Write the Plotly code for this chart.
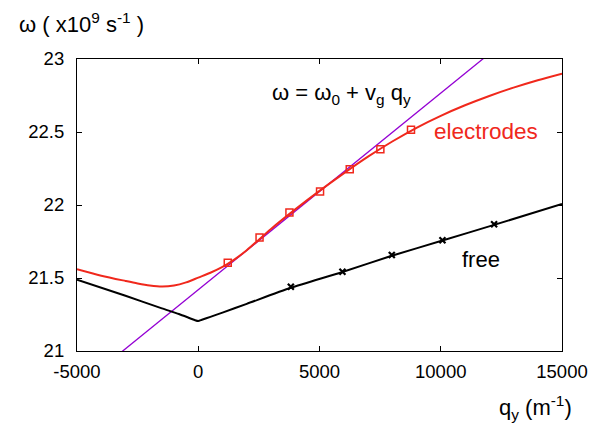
import plotly.graph_objects as go

# free (uncovered) dispersion: line and computed points
free_q = [-5000, -3000, -1500, -800, -400, -150, 0, 150, 500, 1000, 2000, 3818, 5946, 7981, 10070, 12200, 15000]
free_w = [21.488, 21.378, 21.292, 21.253, 21.228, 21.212, 21.205, 21.214, 21.234, 21.263, 21.323, 21.433, 21.541, 21.652, 21.757, 21.864, 22.007]
free_pts_q = [3818, 5946, 7981, 10070, 12200]
free_pts_w = [21.44, 21.543, 21.658, 21.758, 21.868]

# electrodes dispersion: curve and computed points
elec_q = [-5000, -4000, -3000, -2500, -2000, -1500, -1000, -500, 0, 500, 1000, 1500, 2000, 3000, 4000,
          5000, 6000, 7000, 8000, 9000, 10000, 11000, 12000, 13000, 14000, 15000]
elec_w = [21.56, 21.516, 21.48, 21.463, 21.449, 21.441, 21.448, 21.47, 21.503, 21.536, 21.576, 21.628,
          21.69, 21.836, 21.97, 22.097, 22.217, 22.331, 22.435, 22.529, 22.611, 22.683, 22.747,
          22.804, 22.855, 22.9]
elec_pts_q = [1217, 2528, 3760, 5023, 6247, 7510, 8773]
elec_pts_w = [21.605, 21.777, 21.948, 22.092, 22.245, 22.382, 22.515]

# linear fit  w = w0 + vg q
fit_q = [-5000, 15000]
fit_w = [20.746, 23.44]

x_ticks = [-5000, 0, 5000, 10000, 15000]
y_ticks = [21, 21.5, 22, 22.5, 23]
y_ticktext = ["21", "21.5", "22", "22.5", "23"]

FONT = "Liberation Sans, Arial, Helvetica, sans-serif"
RED = "#f0281c"
PURPLE = "#9400d3"

fig = go.Figure()
fig.add_trace(go.Scatter(x=fit_q, y=fit_w, mode="lines",
                         line=dict(color=PURPLE, width=1.3), hoverinfo="skip"))
fig.add_trace(go.Scatter(x=free_q, y=free_w, mode="lines",
                         line=dict(color="black", width=2, shape="spline", smoothing=0.6)))
fig.add_trace(go.Scatter(x=free_pts_q, y=free_pts_w, mode="markers",
                         marker=dict(symbol="x-thin", size=6, line=dict(color="black", width=2.2))))
fig.add_trace(go.Scatter(x=elec_q, y=elec_w, mode="lines",
                         line=dict(color=RED, width=2, shape="spline", smoothing=0.8)))
fig.add_trace(go.Scatter(x=elec_pts_q, y=elec_pts_w, mode="markers",
                         marker=dict(symbol="square-open", size=7, color=RED, line=dict(color=RED, width=1.5))))

fig.update_layout(
    width=614, height=426,
    margin=dict(l=77, r=52, t=59, b=75),
    paper_bgcolor="white", plot_bgcolor="white",
    showlegend=False,
    font=dict(family=FONT, size=19, color="black"),
    xaxis=dict(range=[-5000, 15000], tickvals=x_ticks, ticktext=[str(v) for v in x_ticks],
               ticks="inside", ticklen=5, tickcolor="black", showgrid=False, zeroline=False,
               showline=True, linecolor="black", linewidth=1.2, mirror="allticks",
               tickfont=dict(size=18.5), ticklabelstandoff=4),
    yaxis=dict(range=[21, 23], tickvals=y_ticks, ticktext=y_ticktext,
               ticks="inside", ticklen=5, tickcolor="black", showgrid=False, zeroline=False,
               showline=True, linecolor="black", linewidth=1.2, mirror="allticks",
               tickfont=dict(size=18.5), ticklabelstandoff=8),
    annotations=[
        dict(text="ω = ω<sub>0</sub> + v<sub>g</sub> q<sub>y</sub>", x=2964, y=22.76, xref="x", yref="y",
             xanchor="left", yanchor="middle", showarrow=False, font=dict(size=22, color="black")),
        dict(text="electrodes", x=9633, y=22.505, xref="x", yref="y",
             xanchor="left", yanchor="middle", showarrow=False, font=dict(size=22.5, color=RED)),
        dict(text="free", x=10788, y=21.625, xref="x", yref="y",
             xanchor="left", yanchor="middle", showarrow=False, font=dict(size=22, color="black")),
        dict(text="ω ( x10<sup>9</sup> s<sup>-1</sup> )", x=-0.124, y=1.123, xref="paper", yref="paper",
             xanchor="left", yanchor="middle", showarrow=False, font=dict(size=22, color="black")),
        dict(text="q<sub>y</sub> (m<sup>-1</sup>)", x=0.866, y=-0.195, xref="paper", yref="paper",
             xanchor="left", yanchor="middle", showarrow=False, font=dict(size=22, color="black")),
    ],
)

fig.write_html("out.html", config={"displayModeBar": False},
               post_script="document.body.style.margin='0';document.body.style.padding='0';")
